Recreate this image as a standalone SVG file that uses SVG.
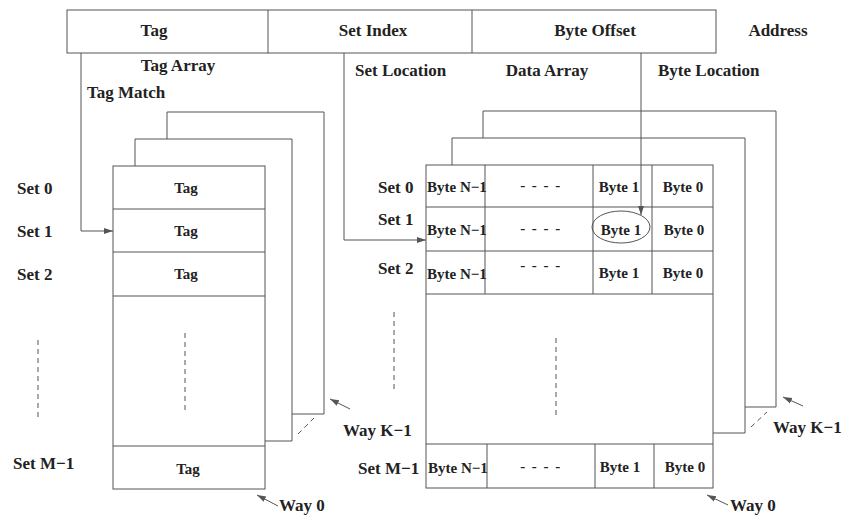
<svg xmlns="http://www.w3.org/2000/svg" width="844" height="519" viewBox="0 0 844 519">
<style>
.b{fill:#fff;stroke:#555;stroke-width:1}
.l{fill:none;stroke:#555;stroke-width:1}
.d{fill:none;stroke:#555;stroke-width:1;stroke-dasharray:5,4}
.t{font-family:"Liberation Serif",serif;font-weight:bold;fill:#222;font-size:17px}
.s{font-family:"Liberation Serif",serif;font-weight:bold;fill:#222;font-size:15px}
.c{text-anchor:middle}
.ds{letter-spacing:1.5px}
</style>
<defs>
<marker id="ah" markerWidth="10" markerHeight="8" refX="9" refY="4" orient="auto" markerUnits="userSpaceOnUse">
<path d="M0,1 L9,4 L0,7 Z" fill="#555"/>
</marker>
</defs>
<rect width="844" height="519" fill="#fff"/>

<g id="address">
<rect class="b" x="67" y="10" width="649" height="43"/>
<line class="l" x1="268" y1="10" x2="268" y2="53"/>
<line class="l" x1="472" y1="10" x2="472" y2="53"/>
<text class="t c" x="154" y="36">Tag</text>
<text class="t c" x="373" y="36">Set Index</text>
<text class="t c" x="595" y="36">Byte Offset</text>
<text class="t c" x="778" y="36">Address</text>
</g>

<g id="labels">
<text class="t c" x="178" y="71">Tag Array</text>
<text class="t" x="87" y="98">Tag Match</text>
<text class="t" x="355" y="76">Set Location</text>
<text class="t c" x="547" y="76">Data Array</text>
<text class="t" x="658" y="76">Byte Location</text>
</g>

<g id="tag-array">
<path class="l" d="M167,139 V112 H324 V414 H292"/>
<path class="l" d="M135,166 V139 H292 V441 H265"/>
<line class="d" x1="298" y1="434" x2="314" y2="418"/>
<rect class="b" x="113" y="166" width="152" height="323"/>
<line class="l" x1="113" y1="209" x2="265" y2="209"/>
<line class="l" x1="113" y1="252" x2="265" y2="252"/>
<line class="l" x1="113" y1="296" x2="265" y2="296"/>
<line class="l" x1="113" y1="446" x2="265" y2="446"/>
<text class="s c" x="186" y="193">Tag</text>
<text class="s c" x="186" y="236">Tag</text>
<text class="s c" x="186" y="279">Tag</text>
<text class="s c" x="188" y="474">Tag</text>
<line class="d" x1="185" y1="333" x2="185" y2="413"/>
</g>

<g id="tag-sets">
<text class="t" x="17" y="194">Set 0</text>
<text class="t" x="17" y="237">Set 1</text>
<text class="t" x="17" y="280">Set 2</text>
<text class="t" x="13" y="469">Set M−1</text>
<line class="d" x1="38" y1="340" x2="38" y2="418"/>
</g>

<g id="data-array">
<path class="l" d="M483,138 V111 H776 V407 H745"/>
<path class="l" d="M452,165 V138 H745 V433 H713"/>
<line class="d" x1="751" y1="427" x2="767" y2="412"/>
<rect class="b" x="426" y="165" width="287" height="323"/>
<line class="l" x1="426" y1="207" x2="713" y2="207"/>
<line class="l" x1="426" y1="251" x2="713" y2="251"/>
<line class="l" x1="426" y1="294" x2="713" y2="294"/>
<line class="l" x1="426" y1="444" x2="713" y2="444"/>
<line class="l" x1="485" y1="165" x2="485" y2="294"/>
<line class="l" x1="593" y1="165" x2="593" y2="294"/>
<line class="l" x1="652" y1="165" x2="652" y2="294"/>
<line class="l" x1="487" y1="444" x2="487" y2="488"/>
<line class="l" x1="595" y1="444" x2="595" y2="488"/>
<line class="l" x1="654" y1="444" x2="654" y2="488"/>
<text class="s" x="427" y="192">Byte N−1</text>
<text class="s c ds" x="541" y="190">- - - -</text>
<text class="s c" x="619" y="192">Byte 1</text>
<text class="s c" x="683" y="192">Byte 0</text>
<text class="s" x="427" y="235">Byte N−1</text>
<text class="s c ds" x="541" y="233">- - - -</text>
<text class="s c" x="621" y="235">Byte 1</text>
<text class="s c" x="684" y="235">Byte 0</text>
<text class="s" x="427" y="279">Byte N−1</text>
<text class="s c ds" x="541" y="270">- - - -</text>
<text class="s c" x="619" y="278">Byte 1</text>
<text class="s c" x="683" y="278">Byte 0</text>
<text class="s" x="428" y="473">Byte N−1</text>
<text class="s c ds" x="541" y="471">- - - -</text>
<text class="s c" x="620" y="472">Byte 1</text>
<text class="s c" x="685" y="472">Byte 0</text>
<ellipse class="l" cx="621" cy="227" rx="29" ry="16"/>
<line class="d" x1="556" y1="338" x2="556" y2="417"/>
</g>

<g id="data-sets">
<text class="t" x="378" y="193">Set 0</text>
<text class="t" x="378" y="225">Set 1</text>
<text class="t" x="378" y="274">Set 2</text>
<text class="t" x="358" y="474">Set M−1</text>
<line class="d" x1="394" y1="312" x2="394" y2="390"/>
</g>

<g id="way-labels">
<text class="t" x="343" y="436">Way K−1</text>
<text class="t" x="773" y="433">Way K−1</text>
<text class="t" x="279" y="511">Way 0</text>
<text class="t" x="730" y="511">Way 0</text>
</g>

<g id="connectors">
<path class="l" d="M81,53 V231 H113" marker-end="url(#ah)"/>
<path class="l" d="M344,53 V240 H426" marker-end="url(#ah)"/>
<path class="l" d="M641,53 V215" marker-end="url(#ah)"/>
<line class="l" x1="350" y1="409" x2="330" y2="399" marker-end="url(#ah)"/>
<line class="l" x1="803" y1="406" x2="783" y2="397" marker-end="url(#ah)"/>
<line class="l" x1="278" y1="506" x2="257" y2="495" marker-end="url(#ah)"/>
<line class="l" x1="728" y1="505" x2="707" y2="495" marker-end="url(#ah)"/>
</g>
</svg>
